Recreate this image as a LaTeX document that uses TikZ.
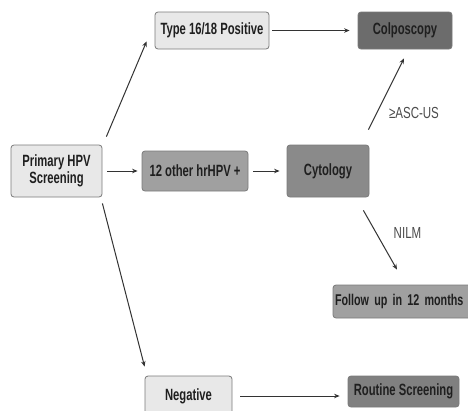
\documentclass[tikz,border=0pt]{standalone}
\usepackage{fontspec}
\setmainfont{Liberation Sans}
\newfontfamily\boxfont{Liberation Sans}[FakeStretch=0.69]
\newfontfamily\lblfont{Liberation Sans}[FakeStretch=0.72]
\usetikzlibrary{arrows.meta}
\definecolor{lightbox}{HTML}{E8E8E8}
\definecolor{midbox}{HTML}{A0A0A0}
\definecolor{cytobox}{HTML}{8A8A8A}
\definecolor{darkbox}{HTML}{6C6C6C}
\definecolor{routbox}{HTML}{808080}
\definecolor{edgegray}{HTML}{7A7A7A}
\definecolor{linegray}{HTML}{333333}
\tikzset{
  box/.style={draw=edgegray, line width=0.8pt, rounded corners=3pt, inner sep=0pt,
    align=center, font=\boxfont\fontsize{16.3}{17}\selectfont\bfseries, text=black!88},
  arr/.style={draw=linegray, line width=1pt, -{Stealth[length=5.5pt,width=4.5pt]}},
  lbl/.style={font=\lblfont\fontsize{16}{17}\selectfont, text=black!70}
}
\begin{document}
\begin{tikzpicture}[x=1pt,y=-1pt]
\useasboundingbox (0,0) rectangle (468,410);
\clip (0,0) rectangle (468,410);
\fill[white] (0,0) rectangle (468,410);
\node[box, fill=lightbox, minimum width=114pt, minimum height=37pt] (typ) at (212,30.5) {Type 16/18 Positive};
\node[box, fill=darkbox, minimum width=94pt, minimum height=37pt] (col) at (405,30.5) {Colposcopy};
\node[box, fill=lightbox, minimum width=91pt, minimum height=52pt] (prim) at (56.5,171) {Primary HPV\\Screening};
\node[box, fill=midbox, minimum width=106pt, minimum height=40pt] (oth) at (195,171) {12 other hrHPV +};
\node[box, fill=cytobox, minimum width=82pt, minimum height=52pt] (cyt) at (328,171) {Cytology};
\node[box, fill=midbox, minimum width=139pt, minimum height=33pt, text width=139pt, align=left,
  font=\boxfont\fontsize{15.6}{17}\selectfont\bfseries] (fol) at (402.5,301.5) {\hspace*{2pt}Follow up in 12 months};
\node[box, fill=lightbox, minimum width=87pt, minimum height=40pt] (neg) at (188.5,396) {Negative};
\node[box, fill=routbox, minimum width=111pt, minimum height=31pt] (rou) at (403.5,391.5) {Routine Screening};

\draw[arr] ([shift={(4,-8)}]prim.north east) -- ([shift={(-8,-8)}]typ.south west);
\draw[arr] ([shift={(0,6)}]prim.south east) -- ([shift={(0,-9)}]neg.north west);
\draw[arr] ([xshift=3pt]typ.east) -- ([xshift=-8pt]col.west);
\draw[arr] ([xshift=5pt]prim.east) -- ([xshift=-4pt]oth.west);
\draw[arr] ([xshift=5pt]oth.east) -- ([xshift=-7pt]cyt.west);
\draw[arr] ([shift={(-1,-15)}]cyt.north east) -- ([shift={(-1,9)}]col.south);
\draw[arr] ([shift={(-6,13)}]cyt.south east) -- ([shift={(-5.5,-15)}]fol.north);
\draw[arr] ([xshift=8pt]neg.east) -- ([shift={(-8,4.5)}]rou.west);
\node[lbl] (asc) at (414,113) {≥ASC-US};
\node[lbl] (nilm) at (407.5,233) {NILM};
\end{tikzpicture}
\end{document}
